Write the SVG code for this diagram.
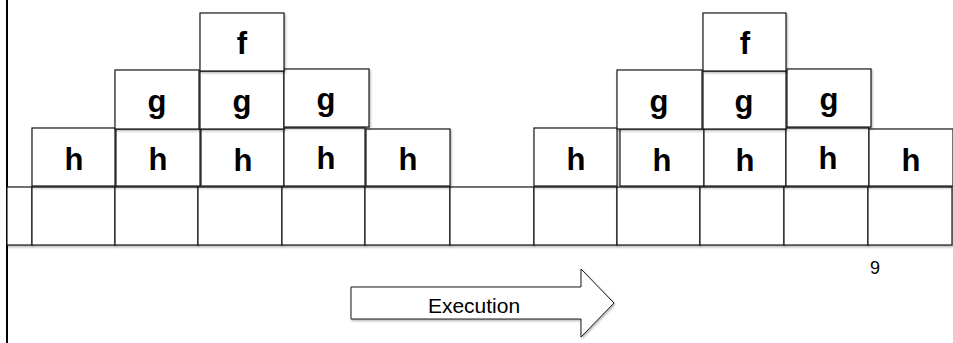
<svg xmlns="http://www.w3.org/2000/svg" width="953" height="343" viewBox="0 0 953 343">
<defs>
<filter id="sh" x="-10%" y="-10%" width="130%" height="130%">
<feDropShadow dx="1" dy="1.5" stdDeviation="0.8" flood-color="#000" flood-opacity="0.3"/>
</filter>
</defs>
<style>
.c{fill:#fff;stroke:#1a1a1a;stroke-width:1.2;filter:url(#sh)}
.t{font-family:"Liberation Sans",Arial,sans-serif;font-weight:bold;font-size:31px;fill:#000;text-anchor:middle}
.n{font-family:"Liberation Sans",Arial,sans-serif;fill:#000;text-anchor:middle}
</style>
<rect width="953" height="343" fill="#fff"/>
<line x1="7" y1="0" x2="7" y2="343" stroke="#000" stroke-width="2"/>
<g id="bottom-row">
<g id="b0"><rect class="c" x="7" y="187" width="25" height="58"/></g>
<g id="b1"><rect class="c" x="32" y="187" width="83" height="58"/></g>
<g id="b2"><rect class="c" x="115" y="187" width="83" height="58"/></g>
<g id="b3"><rect class="c" x="198" y="187" width="84" height="58"/></g>
<g id="b4"><rect class="c" x="282" y="187" width="83" height="58"/></g>
<g id="b5"><rect class="c" x="365" y="187" width="85" height="58"/></g>
<g id="b6"><rect class="c" x="450" y="187" width="84" height="58"/></g>
<g id="b7"><rect class="c" x="534" y="187" width="83" height="58"/></g>
<g id="b8"><rect class="c" x="617" y="187" width="83" height="58"/></g>
<g id="b9"><rect class="c" x="700" y="187" width="84" height="58"/></g>
<g id="b10"><rect class="c" x="784" y="187" width="84" height="58"/></g>
<g id="b11"><rect class="c" x="868" y="187" width="84" height="58"/></g>
</g>
<g id="h-row">
<g id="h1"><rect class="c" x="32" y="128" width="83" height="58"/><text class="t" x="74" y="170">h</text></g>
<g id="h2"><rect class="c" x="116" y="129" width="84" height="57"/><text class="t" x="158" y="170">h</text></g>
<g id="h3"><rect class="c" x="201" y="129" width="83" height="57"/><text class="t" x="243" y="171">h</text></g>
<g id="h4"><rect class="c" x="284" y="128" width="81" height="58"/><text class="t" x="326" y="169">h</text></g>
<g id="h5"><rect class="c" x="366" y="129" width="84" height="57"/><text class="t" x="408" y="170">h</text></g>
<g id="h6"><rect class="c" x="534" y="128" width="83" height="58"/><text class="t" x="576" y="170">h</text></g>
<g id="h7"><rect class="c" x="620" y="129" width="84" height="57"/><text class="t" x="662" y="171">h</text></g>
<g id="h8"><rect class="c" x="704" y="129" width="82" height="57"/><text class="t" x="745" y="171">h</text></g>
<g id="h9"><rect class="c" x="786" y="128" width="83" height="58"/><text class="t" x="828" y="169">h</text></g>
<g id="h10"><rect class="c" x="869" y="129" width="84" height="57"/><text class="t" x="911" y="171">h</text></g>
</g>
<g id="g-row">
<g id="g1"><rect class="c" x="115" y="70" width="84" height="59"/><text class="t" x="157" y="112">g</text></g>
<g id="g2"><rect class="c" x="200" y="71" width="84" height="58"/><text class="t" x="242" y="112">g</text></g>
<g id="g3"><rect class="c" x="284" y="69" width="85" height="58"/><text class="t" x="326" y="110">g</text></g>
<g id="g4"><rect class="c" x="617" y="70" width="85" height="59"/><text class="t" x="659" y="112">g</text></g>
<g id="g5"><rect class="c" x="703" y="71" width="83" height="58"/><text class="t" x="744" y="112">g</text></g>
<g id="g6"><rect class="c" x="787" y="69" width="84" height="58"/><text class="t" x="829" y="110">g</text></g>
</g>
<g id="f-row">
<g id="f1"><rect class="c" x="200" y="13" width="84" height="58"/><text class="t" x="242" y="54">f</text></g>
<g id="f2"><rect class="c" x="703" y="13" width="83" height="58"/><text class="t" x="745" y="54">f</text></g>
</g>
<g id="page-number"><text class="n" x="875" y="274" font-size="18">9</text></g>
<g id="connectors">
<g id="execution-arrow">
<path d="M351,287 L581,287 L581,269 L614,303 L581,337 L581,319 L351,319 Z" fill="#fff" stroke="#1a1a1a" stroke-width="1" filter="url(#sh)"/>
<text class="n" x="474" y="313" font-size="21">Execution</text>
</g>
</g>
</svg>
